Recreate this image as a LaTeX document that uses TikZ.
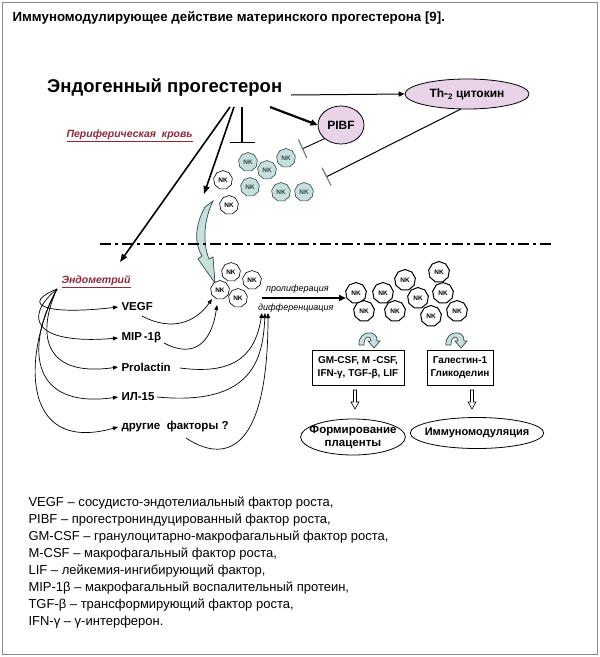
\documentclass[tikz,border=0pt]{standalone}
\usepackage{fontspec}
\setmainfont{Liberation Sans}
\usetikzlibrary{arrows.meta,shapes.geometric}
\definecolor{tealfill}{HTML}{C8E0DD}
\definecolor{tealdark}{HTML}{2F4A4A}
\definecolor{pinkfill}{HTML}{E8D3E8}
\definecolor{darkred}{HTML}{8A2A3A}
\definecolor{framegray}{HTML}{8C8C8C}
\tikzset{
  nkbase/.style={regular polygon, regular polygon sides=9, minimum size=19pt, inner sep=0pt,
    font=\fontsize{6.5}{7}\selectfont\bfseries},
  nkteal/.style={nkbase, draw=tealdark, fill=tealfill, text=tealdark, line width=0.6pt},
  nkwhite/.style={nkbase, draw=black, fill=white, line width=0.6pt},
  nkprol/.style={nkbase, draw=black, fill=white, line width=1pt, minimum size=21pt},
  arr/.style={-{Triangle[length=6pt,width=5pt]}, line width=0.8pt},
  thinarr/.style={-{Triangle[length=5pt,width=4pt]}, line width=0.7pt},
  inhib/.style={-{Bar[width=20pt,line width=1.3pt,color=gray]}, line width=0.9pt},
  lbl/.style={anchor=west, font=\bfseries\fontsize{11.5}{13}\selectfont},
  redlbl/.style={anchor=west, text=darkred, font=\bfseries\itshape\fontsize{10.5}{12}\selectfont},
  legend/.style={anchor=west, font=\fontsize{13}{15}\selectfont},
  boxnode/.style={draw, line width=0.8pt, align=center, inner sep=2pt,
    font=\bfseries\fontsize{10}{13}\selectfont},
  resultell/.style={ellipse, draw, line width=0.8pt, align=center, inner sep=0pt,
    font=\bfseries\fontsize{11}{13}\selectfont},
  hollowdown/.pic={\draw[line width=0.6pt, fill=white] (-1.5,0)--(1.5,0)--(1.5,12)--(4,12)--(0,19)--(-4,12)--(-1.5,12)--cycle;},
  hook/.pic={\draw[line width=0.7pt, fill=tealfill, draw=tealdark]
     (-9,7) .. controls (-10,-8) and (10,-9) .. (9,3) -- (12,3) -- (6,10) -- (0,3) -- (3,3)
     .. controls (3,-3) and (-4,-3) .. (-4,7) -- cycle;}
}
\begin{document}
\begin{tikzpicture}[x=1pt,y=-1pt]
\useasboundingbox (0,0) rectangle (600,657);
\draw[framegray, line width=1pt] (2.5,2.5) rectangle (597.5,654.5);

% title
\node[anchor=west, font=\bfseries\fontsize{13.3}{15}\selectfont] (title) at (9,18)
  {Иммуномодулирующее действие материнского прогестерона [9].};

% progesterone
\node[anchor=west, font=\bfseries\fontsize{18.5}{20}\selectfont, inner sep=0pt] (prog) at (47,88) {Эндогенный прогестерон};
\node[ellipse, draw, line width=0.8pt, fill=pinkfill, minimum width=124pt, minimum height=30pt, inner sep=0pt,
  font=\bfseries\fontsize{12}{14}\selectfont] (th2) at (467,94)
  {Th-\raisebox{-2.5pt}{\fontsize{8}{8}\selectfont 2} цитокин};
\node[ellipse, draw, line width=0.8pt, fill=pinkfill, minimum width=46pt, minimum height=38pt, inner sep=0pt,
  font=\bfseries\fontsize{12}{14}\selectfont] (pibf) at (341,125) {PIBF};

\coordinate (pa) at (291,95);
\draw[arr, line width=1pt] (pa) -- (th2.west);
\coordinate (pb) at (270,107);
\draw[-{Triangle[length=7pt,width=6pt]}, line width=2.2pt] (pb) -- (pibf.west);

\node[redlbl] (periph) at (63,136) {\underline{Периферическая\ \ кровь}};

% arrows from progesterone
\coordinate (s1) at (230,107);
\coordinate (s2) at (234,107);
\coordinate (s3) at (242,107);
\coordinate (t3) at (242,143);
\coordinate (endoTip) at (120,262);
\coordinate (bigTip) at (204,194);
\draw[-{Triangle[length=8pt,width=6pt]}, line width=1.6pt] (s1) -- (endoTip);
\draw[-{Triangle[length=8pt,width=6pt]}, line width=1.6pt] (s2) -- (bigTip);
\draw[-{Bar[width=25pt,line width=1.2pt]}, line width=1.2pt] (s3) -- (t3);

% inhibitions
\coordinate (pibfEnd) at (302,149);
\draw[inhib] (pibf.south west) -- (pibfEnd);
\coordinate (th2Start) at (461,109);
\coordinate (th2End) at (326,177);
\draw[inhib, line width=1pt] (th2Start) -- (th2End);

% peripheral NK cells
\node[nkteal] (nk1) at (248,162) {NK};
\node[nkteal] (nk2) at (267,170) {NK};
\node[nkteal] (nk3) at (286,158) {NK};
\node[nkteal] (nk4) at (250,187) {NK};
\node[nkteal] (nk5) at (281,192) {NK};
\node[nkteal] (nk6) at (304,192) {NK};
\node[nkwhite] (nk7) at (223,180) {NK};
\node[nkwhite] (nk8) at (229,205) {NK};

% big curved arrow
\draw[line width=0.7pt, draw=tealdark, fill=tealfill]
  (213,201) -- (205,207) .. controls (195,225) and (194,243) .. (202,256) -- (198,259) -- (215,283)
  -- (213,257) -- (209,259) .. controls (203,244) and (203,222) .. (213,201) -- cycle;

% dash-dot border
\coordinate (dl) at (100,244);
\coordinate (dr) at (551,244);
\draw[line width=2.6pt, dash pattern=on 11pt off 4pt on 3pt off 4pt] (dl) -- (dr);

% endometrium
\node[redlbl] (endo) at (58,282) {\underline{Эндометрий}};
\node[nkwhite] (e1) at (231,272) {NK};
\node[nkwhite] (e2) at (252,280) {NK};
\node[nkwhite] (e3) at (220,290) {NK};
\node[nkwhite] (e4) at (238,298) {NK};

\node[lbl] (vegf) at (118,307) {VEGF};
\node[lbl] (mip) at (118,338) {MIP\,-1β};
\node[lbl] (prol) at (118,367) {Prolactin};
\node[lbl] (il) at (118,397) {ИЛ-15};
\node[lbl] (oth) at (118,427) {другие\ \ факторы ?};

\coordinate (fan) at (57,289);
\draw[thinarr] (fan) .. controls (22,303) and (40,316) .. (vegf.west);
\draw[thinarr] (fan) .. controls (22,318) and (35,345) .. (mip.west);
\draw[thinarr] (fan) .. controls (38,330) and (40,378) .. (prol.west);
\draw[thinarr] (fan) .. controls (28,340) and (25,410) .. (il.west);
\draw[thinarr] (fan) .. controls (24,350) and (18,455) .. (oth.west);

\coordinate (vegfOut) at (142,316);
\coordinate (mipOut) at (164,343);
\coordinate (prolOut) at (180,368);
\coordinate (ilOut) at (157,397);
\coordinate (othOut) at (186,438);
\coordinate (tA) at (212,299);
\coordinate (tB) at (217,305);
\coordinate (tC) at (262,313);
\coordinate (tD) at (265,313);
\coordinate (tE) at (268,313);
\draw[thinarr] (vegfOut) .. controls (172,332) and (196,322) .. (tA);
\draw[thinarr] (mipOut) .. controls (196,360) and (212,340) .. (tB);
\draw[thinarr] (prolOut) .. controls (240,376) and (256,350) .. (tC);
\draw[thinarr] (ilOut) .. controls (252,406) and (263,360) .. (tD);
\draw[thinarr] (othOut) .. controls (222,462) and (268,458) .. (tE);

% proliferation
\node[anchor=west, font=\itshape\fontsize{9}{10}\selectfont, inner sep=0pt] (prolif) at (266,289) {пролиферация};
\node[anchor=west, font=\itshape\fontsize{9}{10}\selectfont, inner sep=0pt] (diff) at (258,308) {дифференциация};
\coordinate (pl) at (262,298);
\coordinate (pr) at (346,298);
\draw[-{Triangle[length=7pt,width=6pt]}, line width=2pt] (pl) -- (pr);

\node[nkprol] (p1) at (356,293) {NK};
\node[nkprol] (p2) at (383,293) {NK};
\node[nkprol] (p3) at (405,280) {NK};
\node[nkprol] (p4) at (364,311) {NK};
\node[nkprol] (p5) at (395,311) {NK};
\node[nkprol] (p6) at (418,298) {NK};
\node[nkprol] (p7) at (439,272) {NK};
\node[nkprol] (p8) at (443,293) {NK};
\node[nkprol] (p9) at (431,316) {NK};
\node[nkprol] (p10) at (457,311) {NK};

\pic at (368,338) {hook};
\pic at (455,338) {hook};

\node[boxnode, minimum width=92pt, minimum height=35pt] (box1) at (358,367.5) {GM-CSF, M -CSF,\\IFN-γ, TGF-β, LIF};
\node[boxnode, minimum width=66pt, minimum height=35pt] (box2) at (460,367.5) {Галестин-1\\Гликоделин};

\pic at (355,390) {hollowdown};
\pic at (472,390) {hollowdown};

\node[resultell, minimum width=104pt, minimum height=36pt, inner xsep=-6.5pt, inner ysep=-1.5pt,
  font=\bfseries\fontsize{11.5}{13}\selectfont] (plac) at (353,437) {Формирование\\плаценты};
\node[resultell, minimum width=106pt, minimum height=31pt, inner xsep=-5pt] (immun) at (477,433) {Иммуномодуляция};

% legend
\node[legend] (l1) at (25,503) {VEGF – сосудисто-эндотелиальный фактор роста,};
\node[legend] (l2) at (25,520) {PIBF – прогестрониндуцированный фактор роста,};
\node[legend] (l3) at (25,537) {GM-CSF – гранулоцитарно-макрофагальный фактор роста,};
\node[legend] (l4) at (25,554) {M-CSF – макрофагальный фактор роста,};
\node[legend] (l5) at (25,571) {LIF – лейкемия-ингибирующий фактор,};
\node[legend] (l6) at (25,588) {MIP-1β – макрофагальный воспалительный протеин,};
\node[legend] (l7) at (25,605) {TGF-β – трансформирующий фактор роста,};
\node[legend] (l8) at (25,622) {IFN-γ – γ-интерферон.};
\end{tikzpicture}
\end{document}
